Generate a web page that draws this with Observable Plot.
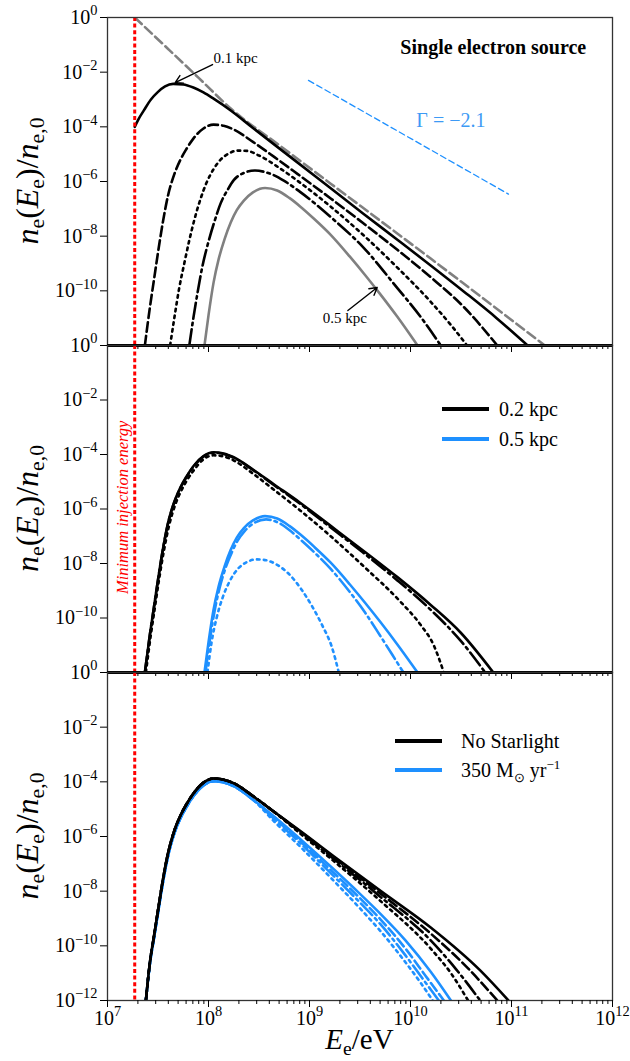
<!DOCTYPE html>
<html><head><meta charset="utf-8">
<script src="https://cdn.jsdelivr.net/npm/d3@7"></script>
<script src="https://cdn.jsdelivr.net/npm/@observablehq/plot@0.6"></script>
<style>
body{margin:0;background:#fff;}
#wrap{position:relative;width:630px;height:1061px;overflow:hidden;font-family:'Liberation Serif',serif;}
.panel{position:absolute;left:0;width:630px;}
.leg{position:absolute;font-size:20px;line-height:20px;white-space:nowrap;color:#000;display:flex;align-items:center;font-family:'Liberation Serif',serif;}
.leg i{display:inline-block;height:4px;}
.leg sub,.leg sup{font-size:13px;line-height:0;}
</style></head>
<body><div id="wrap"></div>
<script>
// ---------- DATA (log10 E [eV], log10 n/n0) ----------
const E_min = 1.86e7; // minimum injection energy
const xMajor = [1e7, 1e8, 1e9, 1e10, 1e11, 1e12];
const yTicksUpper = [1e0, 1e-2, 1e-4, 1e-6, 1e-8, 1e-10];
const yTicksLower = [1e0, 1e-2, 1e-4, 1e-6, 1e-8, 1e-10, 1e-12];

// Panel 1 : single electron source
const p1_01kpc = [[7.27,-4.0],[7.31,-3.7],[7.36,-3.4],[7.43,-3.0],[7.5,-2.72],[7.57,-2.52],[7.65,-2.43],[7.75,-2.45],[7.85,-2.56],[7.95,-2.74],[8.05,-2.97],[8.22,-3.40],[8.44,-4.04],[8.88,-5.3],[9.21,-6.25],[9.53,-7.17],[9.87,-8.13],[10.2,-9.07],[10.53,-10.03],[10.85,-10.99],[11.16,-12]];
const p1_02kpc = [[7.37,-12],[7.42,-10.6],[7.46,-9.6],[7.5,-8.6],[7.55,-7.45],[7.6,-6.5],[7.66,-5.75],[7.72,-5.22],[7.78,-4.82],[7.85,-4.43],[7.95,-4.06],[8.05,-3.92],[8.15,-3.96],[8.25,-4.1],[8.44,-4.55],[8.65,-5.1],[8.88,-5.72],[9.21,-6.62],[9.53,-7.52],[9.87,-8.5],[10.2,-9.5],[10.53,-10.6],[10.86,-12]];
const p1_03kpc = [[7.62,-12],[7.67,-10.8],[7.71,-9.9],[7.76,-9.0],[7.81,-8.15],[7.86,-7.4],[7.92,-6.65],[7.98,-6.05],[8.05,-5.55],[8.12,-5.2],[8.2,-4.98],[8.28,-4.87],[8.38,-4.88],[8.5,-5.05],[8.7,-5.5],[8.88,-5.97],[9.21,-6.92],[9.53,-7.95],[9.87,-9.15],[10.2,-10.4],[10.4,-11.25],[10.56,-12]];
const p1_04kpc = [[7.81,-12],[7.85,-11.0],[7.89,-10.1],[7.94,-9.1],[8.0,-8.2],[8.06,-7.45],[8.12,-6.8],[8.19,-6.3],[8.25,-5.95],[8.33,-5.72],[8.46,-5.6],[8.6,-5.7],[8.75,-5.98],[8.9,-6.36],[9.21,-7.3],[9.53,-8.4],[9.87,-9.9],[10.1,-10.95],[10.3,-12]];
const p1_05kpc = [[7.96,-12],[8.0,-10.9],[8.05,-9.7],[8.1,-8.85],[8.16,-8.1],[8.22,-7.5],[8.28,-7.05],[8.35,-6.7],[8.44,-6.4],[8.56,-6.24],[8.68,-6.33],[8.8,-6.6],[8.91,-6.92],[9.05,-7.38],[9.21,-7.95],[9.4,-8.75],[9.55,-9.42],[9.7,-10.12],[9.87,-10.95],[10.07,-12]];
const p1_injection = [[7.27,0],[7.6,-1.15],[7.9,-2.2],[8.22,-3.33],[8.7,-4.67],[9.21,-6.08],[10.2,-8.82],[11.33,-12]];
const p1_gamma = [[8.99,-2.30],[10.97,-6.46]];

// Panel 2 : 0.2 kpc (black) and 0.5 kpc (blue)
const p2_02_solid = [[7.37,-12],[7.42,-10.6],[7.46,-9.6],[7.5,-8.6],[7.55,-7.45],[7.6,-6.5],[7.66,-5.75],[7.72,-5.22],[7.78,-4.82],[7.85,-4.43],[7.95,-4.06],[8.05,-3.92],[8.15,-3.96],[8.25,-4.1],[8.44,-4.55],[8.65,-5.1],[8.9,-5.75],[9.21,-6.62],[9.53,-7.52],[9.87,-8.5],[10.2,-9.52],[10.5,-10.55],[10.82,-12]];
const p2_02_dashdot = [[7.37,-12],[7.42,-10.6],[7.46,-9.6],[7.5,-8.6],[7.55,-7.45],[7.6,-6.52],[7.66,-5.77],[7.72,-5.24],[7.78,-4.84],[7.85,-4.45],[7.95,-4.08],[8.05,-3.94],[8.15,-3.98],[8.25,-4.12],[8.44,-4.57],[8.65,-5.13],[8.9,-5.79],[9.21,-6.68],[9.53,-7.6],[9.87,-8.62],[10.2,-9.7],[10.5,-10.85],[10.74,-12]];
const p2_02_dotted = [[7.38,-12],[7.43,-10.6],[7.47,-9.6],[7.51,-8.6],[7.56,-7.5],[7.61,-6.6],[7.67,-5.85],[7.73,-5.33],[7.79,-4.93],[7.86,-4.55],[7.95,-4.18],[8.05,-4.03],[8.15,-4.07],[8.25,-4.22],[8.44,-4.7],[8.65,-5.3],[8.91,-6.06],[9.21,-7.0],[9.55,-8.15],[9.9,-9.4],[10.1,-10.25],[10.23,-11.0],[10.33,-12]];
const p2_05_solid = [[7.96,-12],[8.0,-10.9],[8.05,-9.7],[8.1,-8.85],[8.16,-8.1],[8.22,-7.5],[8.28,-7.05],[8.35,-6.7],[8.44,-6.42],[8.56,-6.26],[8.68,-6.35],[8.8,-6.62],[8.91,-6.94],[9.05,-7.4],[9.21,-7.97],[9.4,-8.77],[9.55,-9.44],[9.7,-10.14],[9.87,-10.97],[10.07,-12]];
const p2_05_dashdot = [[7.97,-12],[8.01,-10.9],[8.06,-9.75],[8.11,-8.9],[8.17,-8.15],[8.23,-7.6],[8.29,-7.15],[8.36,-6.8],[8.45,-6.52],[8.57,-6.38],[8.69,-6.5],[8.81,-6.8],[8.91,-7.12],[9.05,-7.6],[9.21,-8.2],[9.4,-9.05],[9.55,-9.8],[9.7,-10.65],[9.82,-11.35],[9.93,-12]];
const p2_05_dotted = [[7.99,-12],[8.03,-10.9],[8.08,-10.0],[8.14,-9.25],[8.21,-8.65],[8.29,-8.2],[8.38,-7.95],[8.47,-7.85],[8.57,-7.88],[8.68,-8.05],[8.8,-8.4],[8.92,-8.95],[9.03,-9.6],[9.13,-10.3],[9.22,-11.05],[9.29,-12]];

// Panel 3 : no starlight (black) vs 350 Msun/yr (blue)
const p3_rise_black = [[7.38,-12],[7.42,-10.6],[7.46,-9.65],[7.5,-8.7],[7.55,-7.55],[7.6,-6.6],[7.66,-5.8],[7.72,-5.25],[7.78,-4.83],[7.85,-4.43],[7.95,-4.03],[8.05,-3.88],[8.15,-3.92],[8.25,-4.05],[8.44,-4.52],[8.65,-5.1]];
const p3_black_solid   = [[8.91,-5.8],[9.24,-6.72],[9.7,-7.98],[10.2,-9.33],[10.69,-10.9],[10.97,-12]];
const p3_black_dashed  = [[8.91,-5.82],[9.24,-6.76],[9.7,-8.08],[10.2,-9.55],[10.55,-10.75],[10.86,-12]];
const p3_black_dashdot = [[8.91,-5.85],[9.24,-6.82],[9.7,-8.2],[10.2,-9.8],[10.45,-10.85],[10.69,-12]];
const p3_black_dotted  = [[8.91,-5.9],[9.24,-6.9],[9.7,-8.35],[10.2,-10.1],[10.4,-11.0],[10.57,-12]];
const p3_rise_blue = [[7.38,-12],[7.42,-10.65],[7.46,-9.72],[7.5,-8.8],[7.55,-7.65],[7.6,-6.7],[7.66,-5.9],[7.72,-5.35],[7.78,-4.93],[7.85,-4.53],[7.95,-4.13],[8.05,-3.98],[8.15,-4.02],[8.25,-4.16],[8.44,-4.65]];
const p3_blue_solid   = [[8.65,-5.27],[8.91,-6.1],[9.24,-7.2],[9.5,-8.1],[9.7,-8.82],[9.95,-9.8],[10.2,-10.95],[10.4,-12]];
const p3_blue_dashed  = [[8.65,-5.32],[8.91,-6.18],[9.24,-7.33],[9.5,-8.26],[9.7,-9.02],[9.95,-10.1],[10.15,-11.1],[10.33,-12]];
const p3_blue_dashdot = [[8.65,-5.36],[8.91,-6.25],[9.24,-7.45],[9.5,-8.42],[9.7,-9.2],[9.95,-10.35],[10.12,-11.2],[10.28,-12]];
const p3_blue_dotted  = [[8.65,-5.45],[8.91,-6.38],[9.24,-7.62],[9.5,-8.63],[9.7,-9.45],[9.95,-10.6],[10.1,-11.35],[10.22,-12]];

// Annotations (data units: log10 E, log10 n)
const p1_labels = [
  {le: 11.74, ln: -1.10, text: "Single electron source", anchor: "end", weight: "bold", size: 20, color: "black"},
  {le: 10.40, ln: -3.77, text: "Γ = −2.1", anchor: "middle", weight: "normal", size: 20, color: "#3d9af5"},
  {le: 8.05, ln: -1.50, text: "0.1 kpc", anchor: "start", weight: "normal", size: 15, color: "black"},
  {le: 9.13, ln: -11.01, text: "0.5 kpc", anchor: "start", weight: "normal", size: 15, color: "black"}
];
const p1_arrows = [
  {le1: 8.04, ln1: -1.72, le2: 7.67, ln2: -2.38},
  {le1: 9.38, ln1: -10.72, le2: 9.67, ln2: -9.88}
];
const p2_vlabel = [{le: 7.15, ln: -5.94, text: "Minimum injection energy"}];
const legend2 = {labels: ["0.2 kpc", "0.5 kpc"], colors: ["black", "dodgerblue"]};
const legend3 = {labels: ["No Starlight", "350 M<sub>⊙</sub> yr<sup>−1</sup>"], colors: ["black", "dodgerblue"]};

// ---------- helpers ----------
const svgns = "http://www.w3.org/2000/svg";
const SERIF = "Liberation Serif, Times New Roman, serif";
const xMinor = [];
for (let d = 7; d < 12; d++) for (let k = 2; k <= 9; k++) xMinor.push(k * 10 ** d);
const pts = arr => arr.map(([e, n]) => ({E: 10 ** e, n: 10 ** n}));
const DASH = {solid: null, dashed: "9.6,4.2", dotted: "2.6,4.3", dashdot: "16,4.2,2.6,4.2"};
function curve(arr, stroke, style, w = 2.6, c = "monotone-x") {
  return Plot.line(pts(arr), {x: "E", y: "n", stroke, strokeWidth: w,
    strokeDasharray: DASH[style] ?? style, curve: c, clip: true});
}
const pow10 = d => `10^${Math.round(Math.log10(d))}`;

function panel({height, mt, mb, yTicks, xLabels, marks, bottomRule}) {
  return Plot.plot({
    width: 630, height, marginLeft: 107, marginRight: 18, marginTop: mt, marginBottom: mb,
    x: {type: "log", domain: [1e7, 1e12]},
    y: {type: "log", domain: [1e-12, 1]},
    style: {background: "transparent", overflow: "visible", fontFamily: SERIF, fontSize: "20px", color: "black"},
    marks: [
      ...marks,
      Plot.ruleX([E_min], {stroke: "red", strokeWidth: 3, strokeDasharray: "4,2.6"}),
      Plot.frame({stroke: "#333", strokeWidth: 1.3}),
      bottomRule ? Plot.ruleY([1e-12], {stroke: "black", strokeWidth: 3}) : null,
      Plot.axisY({ticks: yTicks, tickSize: 7, tickPadding: 3, tickFormat: pow10, label: null}),
      Plot.axisX({ticks: xMajor, tickSize: 7, tickPadding: 3, tickFormat: xLabels ? pow10 : () => "", label: null}),
      Plot.axisX({ticks: xMinor, tickSize: 4, tickFormat: () => "", label: null})
    ]
  });
}

function supify(svg) {
  svg.querySelectorAll("text").forEach(t => {
    const m = /^10\^(-?\d+)$/.exec(t.textContent);
    if (m) {
      t.textContent = "10";
      const s = document.createElementNS(svgns, "tspan");
      s.setAttribute("dy", "-0.6em");
      s.setAttribute("font-size", "0.72em");
      s.textContent = m[1].replace("-", "\u2212");
      t.appendChild(s);
    }
  });
}
function addMath(svg, x, y, rotate, size, parts) {
  const text = document.createElementNS(svgns, "text");
  text.setAttribute("transform", `translate(${x},${y})` + (rotate ? ` rotate(${rotate})` : ""));
  text.setAttribute("text-anchor", "middle");
  text.setAttribute("font-family", SERIF);
  text.setAttribute("font-size", size);
  text.setAttribute("fill", "black");
  let shift = 0;
  for (const p of parts) {
    const ts = document.createElementNS(svgns, "tspan");
    const want = p.sub ? size * 0.2 : 0;
    ts.setAttribute("dy", want - shift); shift = want;
    if (p.sub) ts.setAttribute("font-size", size * 0.68);
    if (p.i) ts.setAttribute("font-style", "italic");
    ts.textContent = p.t;
    text.appendChild(ts);
  }
  svg.appendChild(text);
}
const yLabelParts = [{t: "n", i: 1}, {t: "e", sub: 1}, {t: "("}, {t: "E", i: 1}, {t: "e", sub: 1}, {t: ")/"}, {t: "n", i: 1}, {t: "e,0", sub: 1}];
const xLabelParts = [{t: "E", i: 1}, {t: "e", sub: 1}, {t: "/eV"}];

const wrap = document.getElementById("wrap");
function place(svg, top) {
  const d = document.createElement("div");
  d.className = "panel"; d.style.top = top + "px";
  d.appendChild(svg); wrap.appendChild(d);
}
function legend(spec, left, ys, gap) {
  spec.labels.forEach((lab, i) => {
    const d = document.createElement("div");
    d.className = "leg";
    d.style.left = left + "px"; d.style.top = (ys[i] - 10) + "px";
    d.innerHTML = `<i style="width:47px;background:${spec.colors[i]}"></i><span style="margin-left:${gap}px">${lab}</span>`;
    wrap.appendChild(d);
  });
}

// ---------- Panel 1 ----------
const s1 = panel({height: 345, mt: 17, mb: 0, yTicks: yTicksUpper, xLabels: false, bottomRule: true, marks: [
  curve(p1_injection, "#808080", "9.5,4.5", 2.6),
  curve(p1_gamma, "dodgerblue", "6,3.5", 1.3, "linear"),
  curve(p1_05kpc, "#808080", "solid"),
  curve(p1_04kpc, "black", "dashdot"),
  curve(p1_03kpc, "black", "dotted"),
  curve(p1_02kpc, "black", "dashed"),
  curve(p1_01kpc, "black", "solid"),
  Plot.arrow(p1_arrows, {x1: d => 10 ** d.le1, y1: d => 10 ** d.ln1, x2: d => 10 ** d.le2, y2: d => 10 ** d.ln2, stroke: "black", strokeWidth: 1.4, headLength: 9}),
  ...p1_labels.map(l => Plot.text([l], {x: d => 10 ** d.le, y: d => 10 ** d.ln, text: "text", textAnchor: l.anchor, fontWeight: l.weight, fontSize: l.size, fill: l.color, fontFamily: SERIF}))
]});
supify(s1); addMath(s1, 38, 181, -90, 32, yLabelParts); place(s1, 0);

// ---------- Panel 2 ----------
const s2 = panel({height: 327, mt: 0, mb: 0, yTicks: yTicksUpper, xLabels: false, bottomRule: true, marks: [
  curve(p2_05_dotted, "dodgerblue", "dotted"),
  curve(p2_05_dashdot, "dodgerblue", "dashdot"),
  curve(p2_05_solid, "dodgerblue", "solid"),
  curve(p2_02_dotted, "black", "dotted"),
  curve(p2_02_dashdot, "black", "dashdot"),
  curve(p2_02_solid, "black", "solid"),
  Plot.text(p2_vlabel, {x: d => 10 ** d.le, y: d => 10 ** d.ln, text: "text", rotate: -90, fill: "red", fontStyle: "italic", fontSize: 16.5, fontFamily: SERIF})
]});
supify(s2); addMath(s2, 38, 163.5, -90, 32, yLabelParts); place(s2, 345);

// ---------- Panel 3 ----------
const s3 = panel({height: 389, mt: 0, mb: 61, yTicks: yTicksLower, xLabels: true, bottomRule: false, marks: [
  curve(p3_rise_blue.concat(p3_blue_dotted), "dodgerblue", "dotted"),
  curve(p3_rise_blue.concat(p3_blue_dashdot), "dodgerblue", "dashdot"),
  curve(p3_rise_blue.concat(p3_blue_dashed), "dodgerblue", "dashed"),
  curve(p3_rise_blue.concat(p3_blue_solid), "dodgerblue", "solid"),
  curve(p3_rise_black.concat(p3_black_dotted), "black", "dotted"),
  curve(p3_rise_black.concat(p3_black_dashdot), "black", "dashdot"),
  curve(p3_rise_black.concat(p3_black_dashed), "black", "dashed"),
  curve(p3_rise_black.concat(p3_black_solid), "black", "solid")
]});
supify(s3); addMath(s3, 38, 164, -90, 32, yLabelParts); addMath(s3, 359.5, 377, 0, 29, xLabelParts); place(s3, 672);

legend(legend2, 442, [409, 439], 10);
legend(legend3, 395, [741, 770], 19);
</script></body></html>
